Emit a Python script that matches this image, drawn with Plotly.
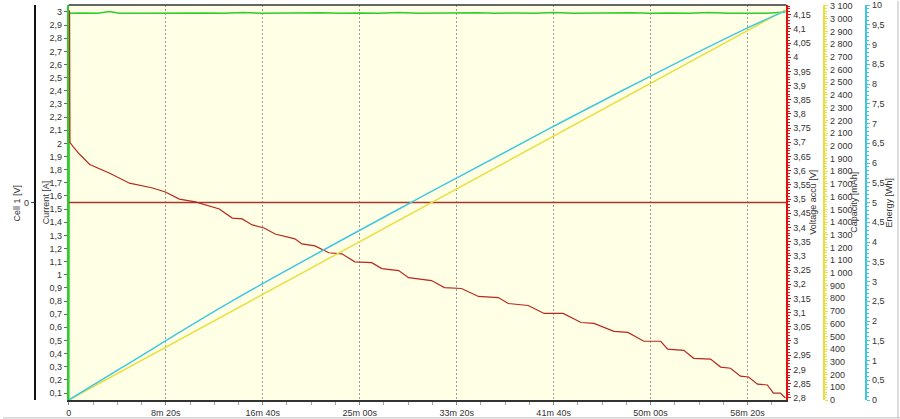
import plotly.graph_objects as go

# ---------------- data ----------------
# time in seconds
volt_t = [0, 4, 6, 21, 57, 108, 211, 313, 432, 498, 570, 653, 776, 843, 894, 946, 1007, 1064,
          1166, 1202, 1269, 1341, 1408, 1475, 1562, 1614, 1701, 1752, 1870, 1937, 2025, 2112,
          2215, 2266, 2369, 2451, 2549, 2641, 2708, 2811, 2883, 2965, 3052, 3088, 3171, 3222,
          3309, 3361, 3412, 3463, 3505, 3551, 3602, 3633, 3669, 3695]
volt_v = [4.166, 4.16, 3.70, 3.686, 3.657, 3.622, 3.591, 3.556, 3.539, 3.525, 3.500, 3.490,
          3.465, 3.433, 3.430, 3.409, 3.398, 3.377, 3.360, 3.342, 3.335, 3.311, 3.307, 3.279,
          3.276, 3.255, 3.248, 3.223, 3.213, 3.188, 3.185, 3.157, 3.153, 3.132, 3.125, 3.097,
          3.097, 3.065, 3.062, 3.034, 3.030, 2.999, 2.999, 2.971, 2.967, 2.939, 2.936, 2.908,
          2.904, 2.876, 2.873, 2.848, 2.845, 2.816, 2.816, 2.799]

curr_t = [0, 3, 60, 150, 210, 260, 400, 500, 600, 700, 800, 900, 1000, 1100, 1200, 1300, 1400,
          1500, 1600, 1700, 1800, 1900, 2000, 2100, 2200, 2300, 2400, 2500, 2600, 2700, 2800,
          2900, 3000, 3100, 3200, 3300, 3400, 3500, 3600, 3695]
curr_a = [0.05, 2.99, 2.992, 2.99, 3.004, 2.99, 2.99, 2.992, 2.99, 2.993, 2.99, 2.995, 2.99,
          2.992, 2.99, 2.994, 2.99, 2.993, 2.99, 2.995, 2.99, 2.992, 2.99, 2.994, 2.99, 2.993,
          2.99, 2.995, 2.99, 2.992, 2.99, 2.994, 2.99, 2.993, 2.99, 2.995, 2.99, 2.992, 2.99, 3.0]

cap_t = [0, 1850, 3695]
cap_mah = [0, 1537, 3069]

energy_t = [0, 277, 843, 1870, 2500, 3000, 3500, 3695]
energy_wh = [0, 0.83, 2.51, 5.28, 6.93, 8.20, 9.42, 9.85]

cell_t = [0, 3700]
cell_v = [0, 0]

x_tickvals = [0, 500, 1000, 1500, 2000, 2500, 3000, 3500]
x_ticktext = ["0", "8m 20s", "16m 40s", "25m 00s", "33m 20s", "41m 40s", "50m 00s", "58m 20s"]

# ---------------- figure ----------------
FONT = dict(family="Arial, Liberation Sans, sans-serif", size=9, color="#333333")
RED = "#E01010"
YEL = "#E8E040"
CYA = "#40C8E0"
GRN = "#2ECC2E"

fig = go.Figure()
fig.add_trace(go.Scatter(x=cell_t, y=cell_v, yaxis="y2", mode="lines",
                         line=dict(color="#A8382E", width=1.3), showlegend=False))
fig.add_trace(go.Scatter(x=cap_t, y=cap_mah, yaxis="y4", mode="lines",
                         line=dict(color=YEL, width=1.5), showlegend=False))
fig.add_trace(go.Scatter(x=energy_t, y=energy_wh, yaxis="y5", mode="lines", line_shape="spline",
                         line=dict(color=CYA, width=1.5), showlegend=False))
fig.add_trace(go.Scatter(x=volt_t, y=volt_v, yaxis="y3", mode="lines",
                         line=dict(color="#B8281E", width=1.2), showlegend=False))
fig.add_trace(go.Scatter(x=curr_t, y=curr_a, yaxis="y", mode="lines",
                         line=dict(color=GRN, width=1.5), showlegend=False))

xd = [66 / 900, 786 / 900]

fig.update_layout(
    width=900, height=419,
    margin=dict(l=0, r=0, t=3, b=19),
    paper_bgcolor="white",
    plot_bgcolor="#FFFFE6",
    font=FONT,
    separators=", ",
    showlegend=False,
    xaxis=dict(domain=xd, range=[0, 3700], tickvals=x_tickvals, ticktext=x_ticktext,
               showgrid=True, gridcolor="#9A9A9A", griddash="2px,2px", gridwidth=1,
               showline=True, linecolor="#333333", linewidth=1.5, ticks="outside",
               ticklen=3, tickcolor="#888888", zeroline=False,
               minor=dict(tickvals=[125 * i for i in range(30)], ticks="outside", ticklen=3,
                          tickcolor="#AAAAAA", showgrid=False),
               mirror=False),
    yaxis=dict(range=[0.047, 3.053], dtick=0.1, tick0=0, showgrid=False, zeroline=False,
               showline=True, linecolor=GRN, linewidth=2, ticks="outside", ticklen=3,
               tickcolor="#666666", side="left", anchor="x", ticklabeloverflow="allow"),
    yaxis2=dict(range=[-1, 1], tickvals=[0], ticktext=["0"], overlaying="y", side="left",
                anchor="free", position=32 / 900, showgrid=False, zeroline=False,
                showline=True, linecolor="#111111", linewidth=2, ticks="outside", ticklen=3),
    yaxis3=dict(range=[2.792, 4.184], dtick=0.05, tick0=0, overlaying="y", side="right",
                anchor="x", showgrid=False, zeroline=False, showline=True, linecolor=RED,
                linewidth=2, ticks="outside", ticklen=3, tickcolor=RED,
                ticklabeloverflow="allow",
                minor=dict(dtick=0.01, ticks="outside", ticklen=2, tickcolor=RED)),
    yaxis4=dict(range=[0, 3107.8], dtick=100, tick0=0, overlaying="y", side="right",
                anchor="free", position=824 / 900, showgrid=False, zeroline=False,
                showline=True, linecolor=YEL, linewidth=2, ticks="outside", ticklen=3,
                tickcolor=YEL, separatethousands=True, ticklabeloverflow="allow",
                minor=dict(dtick=20, ticks="outside", ticklen=2, tickcolor=YEL)),
    yaxis5=dict(range=[0, 10.0], dtick=0.5, tick0=0, overlaying="y", side="right",
                anchor="free", position=866 / 900, showgrid=False, zeroline=False,
                showline=True, linecolor=CYA, linewidth=2, ticks="outside", ticklen=3,
                tickcolor=CYA, ticklabeloverflow="allow",
                minor=dict(dtick=0.1, ticks="outside", ticklen=2, tickcolor=CYA)),
)

# top border of plot area
fig.add_shape(type="line", xref="paper", yref="paper", x0=xd[0], x1=xd[1], y0=1, y1=1,
              line=dict(color="#333333", width=1.5))
# window frame lines
fig.add_shape(type="line", xref="paper", yref="paper", x0=0, x1=1, y0=-18 / 397, y1=-18 / 397,
              line=dict(color="#BBBBBB", width=1))
fig.add_shape(type="line", xref="paper", yref="paper", x0=898 / 900, x1=898 / 900,
              y0=-18 / 397, y1=1.01, line=dict(color="#BBBBBB", width=1))

titles = [("Cell 1 [V]", 14), ("Current [A]", 43), ("Voltage accu [V]", 812),
          ("Capacity [mAh]", 853), ("Energy [Wh]", 888)]
for txt, px in titles:
    fig.add_annotation(text=txt, xref="paper", yref="paper", x=px / 900, y=0.5,
                       textangle=-90, showarrow=False, font=FONT,
                       xanchor="center", yanchor="middle")

fig.write_html("out.html", config={"displayModeBar": False},
               post_script="document.body.style.margin='0';document.body.style.overflow='hidden';")
